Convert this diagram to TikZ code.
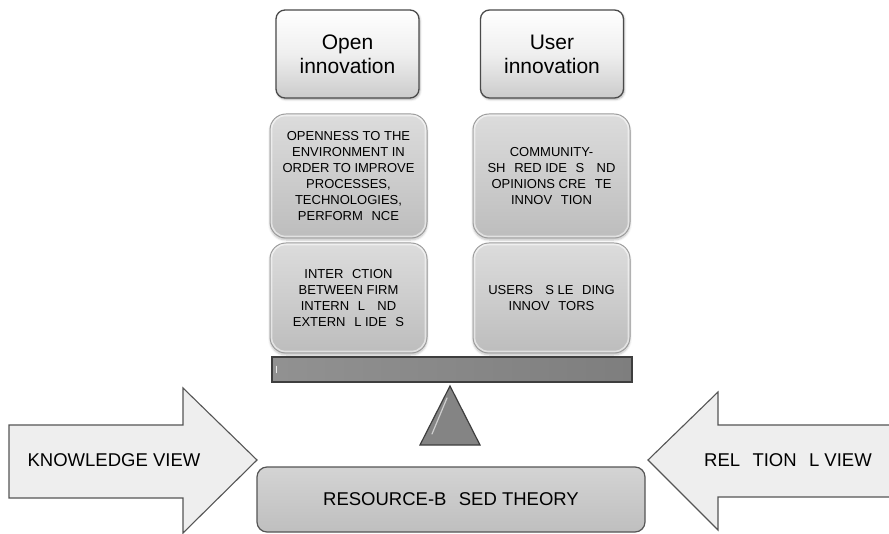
\documentclass[tikz,border=0pt]{standalone}
\usepackage{fontspec}
\setmainfont{Liberation Sans}
\usetikzlibrary{shadows.blur}
\definecolor{topfill}{HTML}{EFEFEF}
\definecolor{topedge}{HTML}{4A4A4A}
\definecolor{midfill}{HTML}{CDCDCD}
\definecolor{midedge}{HTML}{9A9A9A}
\definecolor{barfill}{HTML}{7E7E7E}
\definecolor{baredge}{HTML}{3E3E3E}
\definecolor{arrowfill}{HTML}{EEEEEE}
\definecolor{arrowedge}{HTML}{555555}
\definecolor{basefill}{HTML}{C9C9C9}
\tikzset{
  headbox/.style={draw=topedge, line width=1.3pt, rounded corners=9pt,
    top color=white, bottom color=topfill!85!black, middle color=topfill,
    minimum width=143pt, minimum height=88pt, align=center,
    font=\fontsize{21}{24}\selectfont, inner sep=0pt,
    blur shadow={shadow blur steps=5, shadow xshift=1pt, shadow yshift=-1.5pt, shadow opacity=30}},
  ideabox/.style={draw=midedge, line width=1pt, rounded corners=16pt,
    top color=midfill!70!white, bottom color=midfill!92!black, middle color=midfill,
    minimum width=157pt, align=center,
    font=\fontsize{13}{16}\selectfont, inner sep=0pt,
    blur shadow={shadow blur steps=5, shadow xshift=0pt, shadow yshift=-2pt, shadow opacity=25}},
  bevel/.style={draw=white, opacity=0.55, line width=1.6pt, rounded corners=14pt},
  viewarrow/.style={draw=arrowedge, line width=1.1pt, fill=arrowfill, line join=miter},
  label/.style={font=\fontsize{18.5}{22}\selectfont, inner sep=0pt},
}
\newcommand{\gapA}{\phantom{A}}
\begin{document}
\begin{tikzpicture}[x=1pt,y=-1pt]
  \useasboundingbox (0,0) rectangle (889,534);

  % column headings
  \node[headbox] (open) at (347.5,54) {Open\\innovation};
  \node[headbox] (user) at (552,54) {User\\innovation};

  % idea boxes
  \node[ideabox, minimum height=124pt] (openness) at (348.5,176)
    {OPENNESS TO THE\\ENVIRONMENT IN\\ORDER TO IMPROVE\\PROCESSES,\\TECHNOLOGIES,\\PERFORM\gapA NCE};
  \node[ideabox, minimum height=124pt] (community) at (551.5,176)
    {COMMUNITY-\\SH\gapA RED IDE\gapA S \gapA ND\\OPINIONS CRE\gapA TE\\INNOV\gapA TION};
  \node[ideabox, minimum height=110pt] (interaction) at (348.5,298)
    {INTER\gapA CTION\\BETWEEN FIRM\\INTERN\gapA L \gapA ND\\EXTERN\gapA L IDE\gapA S};
  \node[ideabox, minimum height=110pt] (leading) at (551.5,298)
    {USERS \gapA S LE\gapA DING\\INNOV\gapA TORS};
  % light inner rim on the idea boxes
  \foreach \b in {openness,community,interaction,leading}
    \draw[bevel] ([shift={(2pt,-2pt)}]\b.north west) rectangle ([shift={(-2pt,2pt)}]\b.south east);

  % balance beam and fulcrum
  \node[draw=baredge, line width=1.2pt, left color=barfill!85!white, right color=barfill,
        minimum width=360pt, minimum height=25pt, inner sep=0pt] (beam) at (452,369.5) {};
  \draw[white, opacity=0.8, line width=1.5pt, line cap=round] ([xshift=5pt,yshift=-3pt]beam.west) -- ([xshift=5pt,yshift=3pt]beam.west);
  \coordinate (apex) at (450,386);
  \coordinate (baseL) at (420,445);
  \coordinate (baseR) at (480,445);
  \draw[draw=baredge, line width=1.2pt, fill=barfill!95!white, line join=miter] (apex) -- (baseR) -- (baseL) -- cycle;
  \draw[white, opacity=0.6, line width=1.2pt, line cap=round] (447,398) -- (432,434);

  % the two views pushing on the base
  \draw[viewarrow] (9,425) -- (183,425) -- (183,388) -- (257,460) -- (183,533) -- (183,498) -- (9,498) -- cycle;
  \node[label] (knowledge) at (114,460) {KNOWLEDGE VIEW};
  \draw[viewarrow] (890,425) -- (718,425) -- (718,392) -- (648,460) -- (718,530) -- (718,497) -- (890,497);
  \node[label] (relational) at (788,460) {REL\gapA TION\gapA L VIEW};

  % base theory
  \node[draw=arrowedge, line width=1.2pt, rounded corners=10pt,
        top color=basefill!80!white, bottom color=basefill!95!black,
        minimum width=388pt, minimum height=65pt, label] (rbt) at (451,499.5)
        {RESOURCE-B\gapA SED THEORY};
\end{tikzpicture}
\end{document}
